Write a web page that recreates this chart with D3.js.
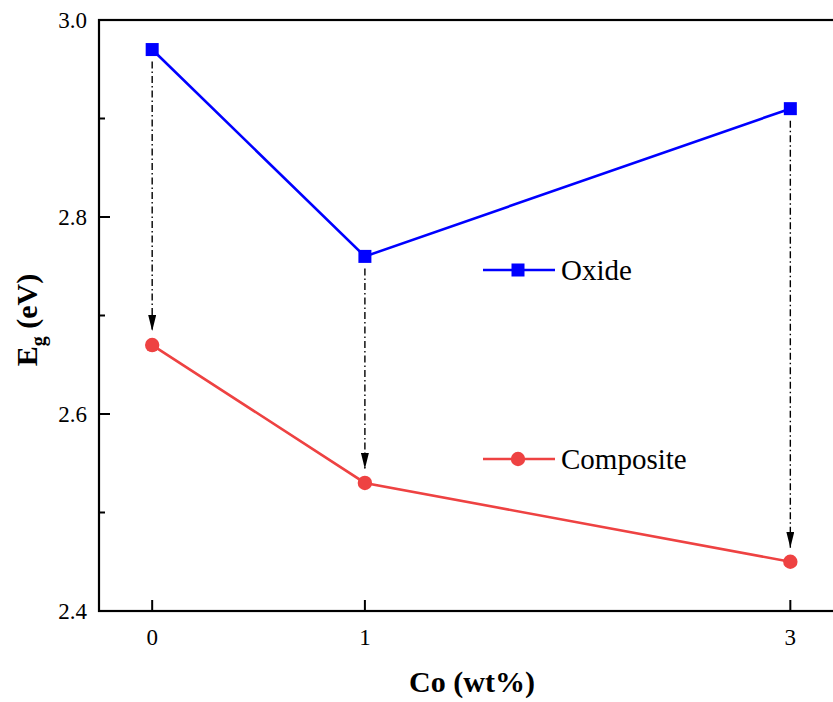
<!DOCTYPE html>
<html><head>
<script src="https://cdn.jsdelivr.net/npm/d3@7"></script>
<style>svg text, svg tspan { font-family: "Times New Roman", "Liberation Serif", Tinos, serif !important; }</style>
</head><body style="margin:0"><svg id="c" width="833" height="702" style="display:block"></svg>
<script>
const coContent = [0, 1, 3];
const xTickLabels = ["0", "1", "3"];
const oxideEg = [2.97, 2.76, 2.91];
const compositeEg = [2.67, 2.53, 2.45];
const yMajorTicks = [2.4, 2.6, 2.8, 3.0];
const yMinorTicks = [2.5, 2.7, 2.9];
const seriesNames = ["Oxide", "Composite"];

const svg = d3.select("#c");
const L = 99, T = 20, B = 611, R = 845;
const x = d3.scaleLinear().domain([-0.25, 3.257]).range([L, R]);
const y = d3.scaleLinear().domain([2.4, 3.0]).range([B, T]);
const txt = (g) => g.append("text").attr("font-family", "Times New Roman").style("font-family", "Times New Roman");

const defs = svg.append("defs");
defs.append("marker").attr("id","ah").attr("viewBox","0 0 16 8").attr("refX",16).attr("refY",4)
  .attr("markerWidth",16).attr("markerHeight",8).attr("markerUnits","userSpaceOnUse").attr("orient","auto")
  .append("path").attr("d","M0,0 L16,4 L0,8 Z").attr("fill","#000");

svg.append("rect").attr("x",L).attr("y",T).attr("width",R-L).attr("height",B-T)
  .attr("fill","none").attr("stroke","#000").attr("stroke-width",2.2);

yMajorTicks.forEach(v=>{
  svg.append("line").attr("x1",L).attr("x2",L+11).attr("y1",y(v)).attr("y2",y(v)).attr("stroke","#000").attr("stroke-width",2);
  txt(svg).attr("x",L-12).attr("y",y(v)).attr("dy","0.34em").attr("text-anchor","end").attr("font-size",23).text(v.toFixed(1));
});
yMinorTicks.forEach(v=>{
  svg.append("line").attr("x1",L).attr("x2",L+6).attr("y1",y(v)).attr("y2",y(v)).attr("stroke","#000").attr("stroke-width",2);
});
coContent.forEach((v,i)=>{
  svg.append("line").attr("x1",x(v)).attr("x2",x(v)).attr("y1",B).attr("y2",B-11).attr("stroke","#000").attr("stroke-width",2);
  txt(svg).attr("x",x(v)).attr("y",B+34).attr("text-anchor","middle").attr("font-size",23).text(xTickLabels[i]);
});

txt(svg).attr("x",472).attr("y",692).attr("text-anchor","middle").attr("font-size",30).attr("font-weight","bold").text("Co (wt%)");
const yl = txt(svg).attr("transform","translate(37,320) rotate(-90)").attr("text-anchor","middle").attr("font-size",30).attr("font-weight","bold");
yl.append("tspan").text("E");
yl.append("tspan").attr("font-size",20).attr("dy",8).text("g");
yl.append("tspan").attr("dy",-8).text(" (eV)");

coContent.forEach((v,i)=>{
  svg.append("line").attr("x1",x(v)).attr("x2",x(v)).attr("y1",y(oxideEg[i])+12).attr("y2",y(compositeEg[i])-14)
    .attr("stroke","#000").attr("stroke-width",1.4).attr("stroke-dasharray","7,3,1.5,3").attr("marker-end","url(#ah)");
});

const line = d3.line().x((d,i)=>x(coContent[i])).y(d=>y(d));
const blue = "#0000ff", red = "#ee4242";
svg.append("path").attr("d",line(oxideEg)).attr("fill","none").attr("stroke",blue).attr("stroke-width",2.6);
svg.append("path").attr("d",line(compositeEg)).attr("fill","none").attr("stroke",red).attr("stroke-width",2.6);
svg.selectAll(".sq").data(oxideEg).join("rect").attr("x",(d,i)=>x(coContent[i])-6.5).attr("y",d=>y(d)-6.5)
  .attr("width",13).attr("height",13).attr("fill",blue);
svg.selectAll(".ci").data(compositeEg).join("circle").attr("cx",(d,i)=>x(coContent[i])).attr("cy",d=>y(d)).attr("r",7.2).attr("fill",red);

const lg = [{n:seriesNames[0],c:blue,t:"sq",y:270},{n:seriesNames[1],c:red,t:"ci",y:459}];
lg.forEach(d=>{
  svg.append("line").attr("x1",483).attr("x2",555).attr("y1",d.y).attr("y2",d.y).attr("stroke",d.c).attr("stroke-width",2.6);
  if(d.t==="sq") svg.append("rect").attr("x",518-6.5).attr("y",d.y-6.5).attr("width",13).attr("height",13).attr("fill",d.c);
  else svg.append("circle").attr("cx",518).attr("cy",d.y).attr("r",7.2).attr("fill",d.c);
  txt(svg).attr("x",561).attr("y",d.y).attr("dy","0.34em").attr("font-size",29).text(d.n);
});
</script></body></html>
